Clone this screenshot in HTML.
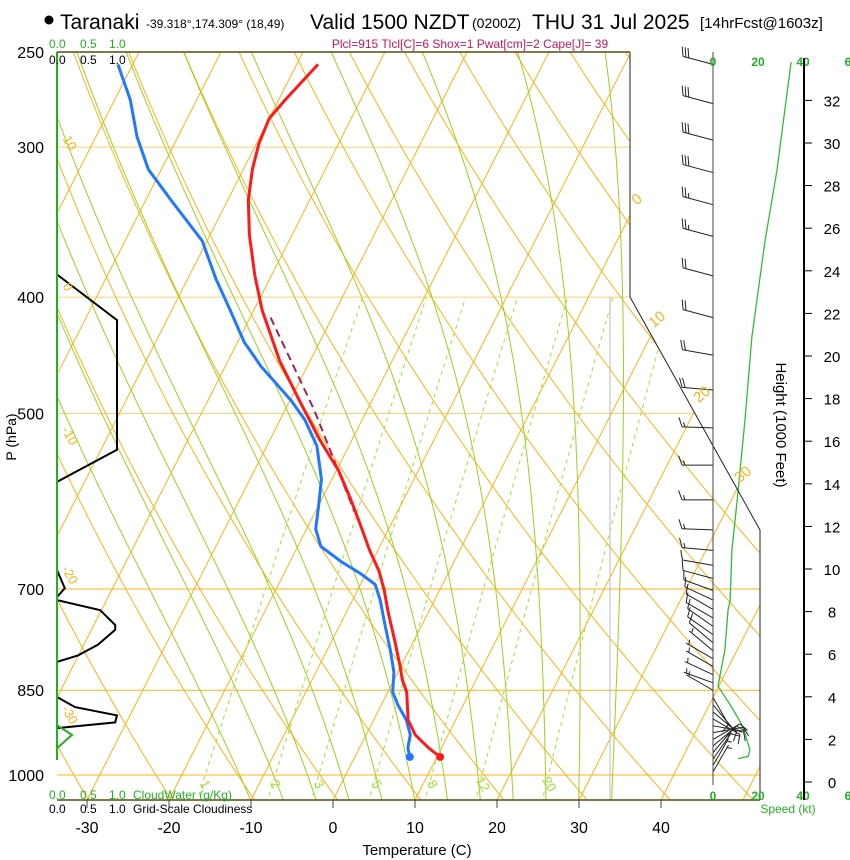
<!DOCTYPE html>
<html><head><meta charset="utf-8"><style>
body{margin:0;background:#fff;}
svg{display:block;font-family:"Liberation Sans",Arial,sans-serif;}
</style></head><body>
<svg id="chart" width="850" height="860" viewBox="0 0 850 860" xmlns="http://www.w3.org/2000/svg">
<defs><clipPath id="plotclip"><polygon points="57,52 630,52 630,297 760,530 760,800 57,800"/></clipPath></defs>
<g id="title">
<circle cx="49" cy="20" r="4.5" fill="#000"/>
<text x="60" y="29" font-size="21">Taranaki</text>
<text x="146" y="28" font-size="12">-39.318°,174.309° (18,49)</text>
<text x="310" y="29" font-size="21">Valid 1500 NZDT</text>
<text x="472" y="28" font-size="14">(0200Z)</text>
<text x="532" y="29" font-size="21">THU 31 Jul 2025</text>
<text x="700" y="28" font-size="15">[14hrFcst@1603z]</text>
</g>
<text x="470" y="48" font-size="12" fill="#c0185a" text-anchor="middle">Plcl=915 Tlcl[C]=6 Shox=1 Pwat[cm]=2 Cape[J]= 39</text>
<g id="grid" clip-path="url(#plotclip)"></g>
<g id="marks"></g>
<g id="axes"></g>
</svg>
<script>
// ---- data ----
const profP = [966,949,926,900,853,833,810,772,732,701,676,650,619,589,558,526,488,452,410,384,355,332,313,298,284,274,256];
const profT = [10.4,8.4,6.0,4.2,2.3,1.0,-0.2,-2.4,-4.9,-6.8,-8.6,-11.0,-13.7,-16.5,-19.7,-23.9,-28.8,-33.7,-39.0,-42.0,-45.2,-47.5,-48.9,-49.7,-50.0,-49.2,-47.4];
const dewP = [966,949,926,900,874,853,821,787,750,714,694,680,664,645,624,594,567,532,506,488,470,457,436,410,386,359,333,313,294,274,256];
const dewT = [6.7,5.9,5.4,4.0,2.0,0.6,-0.5,-2.3,-4.5,-6.7,-8.2,-10.6,-13.8,-17.2,-18.9,-20.1,-21.3,-23.9,-27.0,-29.8,-33.1,-35.6,-39.2,-42.9,-46.6,-50.6,-56.7,-61.6,-65.0,-68.1,-71.8];
const parcelP = [416,497,604];
const parcelT = [-37.5,-26.4,-15.2];
const isoTicks = [-30,-20,-10,0,10,20,30,40];
const pLevels = [250,300,400,500,700,850,1000];
const mixRatios = [1,2,3,5,8,12,20];
const cloudP = [383,418,536,570,675,699,711,715,729,750,757,779,795,805,861,878,892,904,914];
const cloudV = [0,1.0,1.0,0,0,0.13,0,0,0.72,0.97,0.97,0.68,0.35,0,0,0.3,1.0,0.97,0];
const cwP = [909,926,950];
const cwV = [0,0.25,0];
const spdH = [33.8,28.7,25.4,20.9,17.0,13.2,10.9,8.5,8.1,6.2,4.5,3.5,2.6,1.5,1.2,1.1];
const spdV = [34.7,28.4,23.1,17.3,14.2,10.7,8.4,7.6,6.7,5.3,2.2,8.4,13.3,16.4,15.6,11.1];
const heightTicks = [0,2,4,6,8,10,12,14,16,18,20,22,24,26,28,30,32];
const barbP = [256,276,296,315,335,356,384,416,447,478,514,552,590,625,650,669,686,702,715,728,740,752,764,776,788,800,812,825,838,850,862,874,886,898,910,922,934,946,958,970,982,994];
const barbDir = [285,285,285,285,285,285,285,285,280,275,272,270,270,272,275,280,285,290,295,300,300,305,305,310,310,300,300,295,290,300,150,140,130,120,100,80,60,50,40,35,30,30];
const barbSpd = [30,30,30,30,28,25,20,20,20,20,18,15,15,15,15,12,12,10,10,10,10,10,10,10,8,8,5,5,5,5,10,10,10,10,10,10,10,10,10,10,8,5];

// ---- axes functions ----
const NS="http://www.w3.org/2000/svg";
const yP = p => 775 + 521.5*Math.log(p/1000);
const xT = (t,p) => 333 + 8.2*t + 0.508*(800 - yP(p));
const xCloud = v => 57 + 60*v;
const yH = h => 782 - 21.3*h;
const xSpd = s => 713 + 2.25*s;
function el(tag, attrs, parent){const e=document.createElementNS(NS,tag);for(const k in attrs)e.setAttribute(k,attrs[k]);parent.appendChild(e);return e;}
function txt(parent,x,y,s,size,fill,anchor,extra){const t=el('text',Object.assign({x:x,y:y,'font-size':size,fill:fill||'#000','text-anchor':anchor||'start'},extra||{}),parent);t.textContent=s;return t;}
const grid=document.getElementById('grid'), marks=document.getElementById('marks'), axes=document.getElementById('axes');
const ORANGE="#f8b31a", MG="#9ccf22", MR="#9de034";

// horizontal pressure lines
pLevels.slice(1).forEach(p=>{
  const l=el('line',{x1:57,x2:760,y1:yP(p),y2:yP(p),stroke:ORANGE,'stroke-width':1,opacity:(p>=700?1:0.6)},grid);
  
  
});
// isotherms
for(let t=-120;t<=50;t+=10){
  const l=el('line',{x1:xT(t,1060),y1:yP(1060),x2:xT(t,240),y2:yP(240),stroke:ORANGE,'stroke-width':1},grid);
  
  
}
// dry adiabats
for(let th=220;th<=480;th+=10){
  let d='';
  for(let p=1060;p>=240;p-=10){const T=th*Math.pow(p/1000,0.2857)-273.15;d+=(d?'L':'M')+xT(T,p).toFixed(1)+','+yP(p).toFixed(1);}
  const l=el('path',{d:d,fill:'none',stroke:ORANGE,'stroke-width':1},grid);
  
  
}
// moist adiabats
function es(tc){return 6.112*Math.exp(17.67*tc/(tc+243.5));}
for(let t0=-10;t0<=34;t0+=4){
  let T=t0+273.15,d='';
  for(let p=1050;p>=250;p-=5){
    d+=(d?'L':'M')+xT(T-273.15,p).toFixed(1)+','+yP(p).toFixed(1);
    const e=es(T-273.15), rs=0.622*e/(p-e);
    const dTdp=(287*T+2.5e6*rs)/(p*(1004+2.5e6*2.5e6*rs*0.622/(287*T*T)));
    T-=dTdp*5;
  }
  const l=el('path',{d:d,fill:'none',stroke:MG,'stroke-width':1},grid);
  
  
}
// mixing ratio lines
function tdew(w,p){const e=w*p/(622+w);const a=Math.log(e/6.112);return 243.5*a/(17.67-a);}
mixRatios.forEach(w=>{
  let d='';
  for(let p=1040;p>=400;p-=10){d+=(d?'L':'M')+xT(tdew(w,p),p).toFixed(1)+','+yP(p).toFixed(1);}
  const l=el('path',{d:d,fill:'none',stroke:MR,'stroke-width':1,'stroke-dasharray':'4,4'},grid);
  
  
  const x=xT(tdew(w,1022),1022), y=yP(1022);
  const t=txt(grid,x,y,String(w),13,MR,'middle',{transform:'rotate(60 '+x+' '+y+')'});
  
  
});
// grey vertical
el('line',{x1:610,x2:610,y1:297,y2:800,stroke:'#bbb','stroke-width':1},grid);

// isotherm/adiabat labels
[['0',640,203],['10',660,323],['20',705,398],['30',746,478]].forEach(a=>{
  const t=txt(axes,a[1],a[2],a[0],15,ORANGE,'middle',{transform:'rotate(-40 '+a[1]+' '+a[2]+')'});
  
  
});
[['10',66,145],['0',64,289],['-10',66,438],['-20',66,577],['-30',66,717]].forEach(a=>{
  const t=txt(axes,a[1],a[2],a[0],13,ORANGE,'middle',{transform:'rotate(60 '+a[1]+' '+a[2]+')'});
  
  
});

// profiles
function line(P,T,color,w,dash,name){
  const d=P.map((p,i)=>(i?'L':'M')+xT(T[i],p).toFixed(1)+','+yP(p).toFixed(1)).join('');
  const a={d:d,fill:'none',stroke:color,'stroke-width':w,'stroke-linejoin':'round'}; if(dash)a['stroke-dasharray']=dash;
  const l=el('path',a,marks);
  
  
}
line(parcelP,parcelT,'#a0205a',2,'8,5','parcel-path');
line(dewP,dewT,'#1f78ff',3,null,'dewpoint-line');
line(profP,profT,'#ff1a1a',3,null,'temperature-line');
const c1=el('circle',{cx:xT(profT[0],profP[0]),cy:yP(profP[0]),r:4,fill:'#ff1a1a'},marks);


const c2=el('circle',{cx:xT(dewT[0],dewP[0]),cy:yP(dewP[0]),r:4,fill:'#1f78ff'},marks);



// cloud panel
const cl=el('path',{d:cloudP.map((p,i)=>(i?'L':'M')+xCloud(cloudV[i]).toFixed(1)+','+yP(p).toFixed(1)).join(''),fill:'none',stroke:'#000','stroke-width':2},marks);


const cw=el('path',{d:cwP.map((p,i)=>(i?'L':'M')+xCloud(cwV[i]).toFixed(1)+','+yP(p).toFixed(1)).join(''),fill:'none',stroke:'#22b022','stroke-width':2},marks);


el('line',{x1:57,x2:57,y1:52,y2:760,stroke:'#22b022','stroke-width':2},axes);

// borders
el('line',{x1:57,x2:630,y1:52,y2:52,stroke:'#5a4a10','stroke-width':1.5},axes);
el('polyline',{points:'630,52 630,297 760,530 760,800',fill:'none',stroke:'#222','stroke-width':1},axes);
el('line',{x1:57,x2:760,y1:800,y2:800,stroke:'#5a4a10','stroke-width':1.5},axes);
el('line',{x1:713,x2:713,y1:52,y2:785,stroke:'#444','stroke-width':1},axes);

// pressure labels
pLevels.forEach(p=>{
  const t=txt(axes,44,yP(p)+6,String(p),16,'#000','end');
  
  
});
txt(axes,16,437,'P (hPa)',14,'#000','middle',{transform:'rotate(-90 16 437)'});
// temperature ticks
isoTicks.forEach(t=>{
  const x=333+8.2*t;
  el('line',{x1:x,x2:x,y1:800,y2:808,stroke:'#444'},axes);
  const s=txt(axes,x,833,String(t),16,'#000','middle');
  
  
});
txt(axes,417,855,'Temperature (C)',15,'#000','middle');
// cloud scale labels
[['0.0',49],['0.5',80],['1.0',109]].forEach(a=>{txt(axes,a[1],48,a[0],12,'#22b022');txt(axes,a[1],64,a[0],12,'#000');txt(axes,a[1],799,a[0],12,'#22b022');txt(axes,a[1],813,a[0],12,'#000');});
txt(axes,133,799,'CloudWater (g/Kg)',12,'#22b022');
txt(axes,133,813,'Grid-Scale Cloudiness',12,'#000');

// wind speed panel
[['0',713],['20',758],['40',803],['6',848]].forEach(a=>{txt(axes,a[1],66,a[0],12,'#22b022','middle',{'font-weight':'bold'});txt(axes,a[1],800,a[0],12,'#22b022','middle',{'font-weight':'bold'});});
txt(axes,788,813,'Speed (kt)',12,'#22b022','middle');
const sp=el('path',{d:spdH.map((h,i)=>(i?'L':'M')+xSpd(spdV[i]).toFixed(1)+','+yH(h).toFixed(1)).join(''),fill:'none',stroke:'#33bb33','stroke-width':1.3},marks);


// height axis
el('line',{x1:804,x2:804,y1:58,y2:800,stroke:'#000','stroke-width':2},axes);
heightTicks.forEach(h=>{
  el('line',{x1:804,x2:812,y1:yH(h),y2:yH(h),stroke:'#000'},axes);
  const t=txt(axes,832,yH(h)+6,String(h),15,'#000','middle');
  
  
});
txt(axes,776,425,'Height (1000 Feet)',15,'#000','middle',{transform:'rotate(90 776 425)'});

// wind barbs
barbP.forEach((p,i)=>{
  const g=el('g',{},marks);
  
  
  const x0=713,y0=yP(p),a=barbDir[i]*Math.PI/180,L=31;
  const ux=Math.sin(a),uy=-Math.cos(a);
  const tx=x0+ux*L,ty=y0+uy*L;
  el('line',{x1:x0,y1:y0,x2:tx,y2:ty,stroke:'#222','stroke-width':1},g);
  const r=70*Math.PI/180,bx=ux*Math.cos(r)-uy*Math.sin(r),by=ux*Math.sin(r)+uy*Math.cos(r);
  let s=barbSpd[i],k=0;
  while(s>=10){const px=tx-ux*3*k,py=ty-uy*3*k;el('line',{x1:px,y1:py,x2:px+bx*10,y2:py+by*10,stroke:'#222','stroke-width':1},g);s-=10;k++;}
  if(s>=5){const px=tx-ux*3*(k+ (k?0:1)),py=ty-uy*3*(k+(k?0:1));el('line',{x1:px,y1:py,x2:px+bx*5,y2:py+by*5,stroke:'#222','stroke-width':1},g);}
});
</script>
</body></html>
